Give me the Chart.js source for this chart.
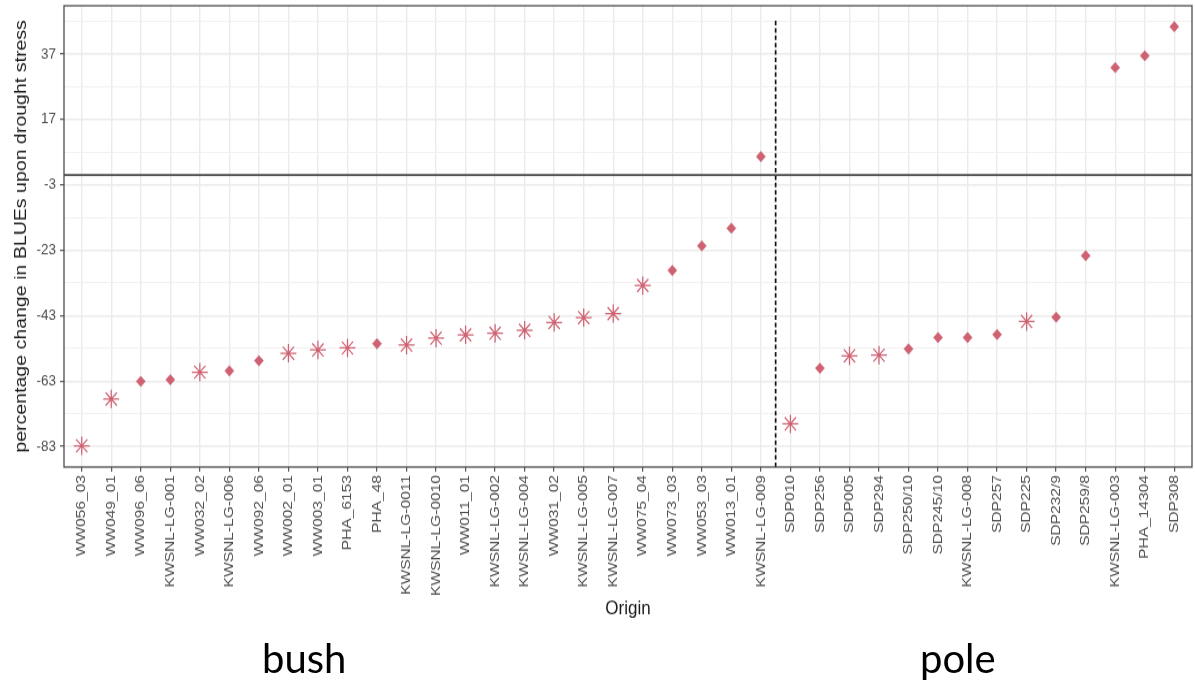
<!DOCTYPE html>
<html>
<head>
<meta charset="utf-8">
<script src="https://cdn.jsdelivr.net/npm/chart.js@4/dist/chart.umd.min.js"></script>
<style>
html,body{margin:0;padding:0;background:#fff;}
#wrap{position:relative;width:1195px;height:681px;overflow:hidden;background:#fff;}
.grp{position:absolute;font-family:Lato,"Open Sans",sans-serif;font-size:40px;line-height:40px;color:#000;white-space:nowrap;}
</style>
</head>
<body>
<div id="wrap">
<canvas id="c" width="1195" height="592" style="width:1195px;height:681px;position:absolute;left:0;top:0;"></canvas>
<div class="grp" style="left:262px;top:638px">bush</div>
<div class="grp" style="left:920px;top:638px">pole</div>
</div>
<script>
// ---- data ----
const bushOrigins = ['WW056_03','WW049_01','WW096_06','KWSNL-LG-001','WW032_02','KWSNL-LG-006','WW092_06','WW002_01','WW003_01','PHA_6153','PHA_48','KWSNL-LG-0011','KWSNL-LG-0010','WW011_01','KWSNL-LG-002','KWSNL-LG-004','WW031_02','KWSNL-LG-005','KWSNL-LG-007','WW075_04','WW073_03','WW053_03','WW013_01','KWSNL-LG-009'];
const bushValues = [-82.8,-68.5,-63.1,-62.6,-60.3,-59.9,-56.8,-54.5,-53.5,-52.9,-51.6,-52.0,-49.9,-48.9,-48.4,-47.5,-45.1,-43.6,-42.4,-33.8,-29.2,-21.7,-16.3,5.6];
const bushSignif = [1,1,0,0,1,0,0,1,1,1,0,1,1,1,1,1,1,1,1,1,0,0,0,0];

const poleOrigins = ['SDP010','SDP256','SDP005','SDP294','SDP250/10','SDP245/10','KWSNL-LG-008','SDP257','SDP225','SDP232/9','SDP259/8','KWSNL-LG-003','PHA_14304','SDP308'];
const poleValues = [-76.1,-59.1,-55.3,-55.1,-53.2,-49.7,-49.7,-48.8,-44.8,-43.5,-24.7,32.8,36.4,45.3];
const poleSignif = [1,0,1,1,0,0,0,0,1,0,0,0,0,0];

const yTickValues = [-83,-63,-43,-23,-3,17,37];
const yMin = -89.3, yMax = 51.7;
const referenceValue = 0;
const dividerTop = 47.5;

// ---- derived ----
const origins = bushOrigins.concat(poleOrigins);
const values = bushValues.concat(poleValues);
const signif = bushSignif.concat(poleSignif);
const dividerX = bushOrigins.length - 0.5;
const xMin = -0.6, xMax = origins.length - 1 + 0.6;
const yMinor = [];
yTickValues.forEach(v => { if (v + 10 < yMax) yMinor.push(v + 10); });
if (yTickValues[0] - 10 > yMin) yMinor.push(yTickValues[0] - 10);
const yAllTicks = yTickValues.concat(yMinor).sort((a,b)=>a-b);
const isMajorY = v => yTickValues.includes(v);

const pointColor = '#CF6272';
Chart.defaults.font.family = "'Liberation Sans', Arial, sans-serif";

const frame = {
  id: 'frame',
  afterDatasetsDraw(chart) {
    const {ctx, chartArea: a} = chart;
    ctx.save();
    ctx.strokeStyle = '#4d4d4d';
    ctx.lineWidth = 1.3;
    ctx.strokeRect(a.left, a.top, a.right - a.left, a.bottom - a.top);
    ctx.restore();
  }
};

new Chart(document.getElementById('c'), {
  type: 'scatter',
  data: {
    datasets: [
      {
        label: 'percentage change',
        data: values.map((v, i) => ({x: i, y: v})),
        pointStyle: ctx => signif[ctx.dataIndex] ? 'star' : 'rectRot',
        pointRadius: ctx => signif[ctx.dataIndex] ? 8 : 4.6,
        pointBorderWidth: ctx => signif[ctx.dataIndex] ? 1.25 : 0.5,
        backgroundColor: pointColor,
        borderColor: pointColor,
        showLine: false
      },
      {
        type: 'line',
        label: 'zero',
        data: [{x: xMin, y: referenceValue}, {x: xMax, y: referenceValue}],
        borderColor: '#4a4a4a',
        borderWidth: 1.8,
        pointRadius: 0,
        showLine: true
      },
      {
        type: 'line',
        label: 'divider',
        data: [{x: dividerX, y: yMin}, {x: dividerX, y: dividerTop}],
        borderColor: '#111',
        borderWidth: 1.7,
        borderDash: [4, 2.4],
        pointRadius: 0,
        showLine: true
      }
    ]
  },
  options: {
    responsive: false,
    animation: false,
    events: [],
    layout: {autoPadding: false, padding: {top: 5, right: 3, bottom: 52, left: 0}},
    plugins: {legend: {display: false}, tooltip: {enabled: false}},
    scales: {
      x: {
        type: 'linear',
        min: xMin,
        max: xMax,
        afterBuildTicks: s => { s.ticks = origins.map((_, i) => ({value: i})); },
        afterFit: s => { s.height = 134; s.paddingLeft = 0; s.paddingRight = 0; },
        ticks: {
          autoSkip: false,
          minRotation: 90,
          maxRotation: 90,
          color: '#4d4d4d',
          font: {size: 13.5},
          padding: 3,
          callback: v => origins[v]
        },
        grid: {color: '#EBEBEB', lineWidth: 1.4, tickLength: 4, tickColor: '#333', tickWidth: 1},
        border: {display: false},
        title: {display: true, text: 'Origin', color: '#1a1a1a', font: {size: 17}, padding: {top: 4, bottom: 0}}
      },
      y: {
        type: 'linear',
        min: yMin,
        max: yMax,
        afterBuildTicks: s => { s.ticks = yAllTicks.map(v => ({value: v})); },
        afterFit: s => { s.width = 64; s.paddingTop = 0; s.paddingBottom = 0; },
        ticks: {
          autoSkip: false,
          color: '#4d4d4d',
          font: {size: 13.5},
          padding: 4,
          callback: v => isMajorY(v) ? String(v) : ''
        },
        grid: {
          color: ctx => isMajorY(ctx.tick.value) ? '#EBEBEB' : '#F1F1F1',
          lineWidth: ctx => isMajorY(ctx.tick.value) ? 1.4 : 1,
          tickLength: 4,
          tickColor: ctx => isMajorY(ctx.tick.value) ? '#333' : 'rgba(0,0,0,0)',
          tickWidth: 1
        },
        border: {display: false},
        title: {display: true, text: 'percentage change in BLUEs upon drought stress', color: '#1a1a1a', font: {size: 17}, padding: {top: 11, bottom: 2}}
      }
    }
  },
  plugins: [frame]
});
</script>
</body>
</html>
